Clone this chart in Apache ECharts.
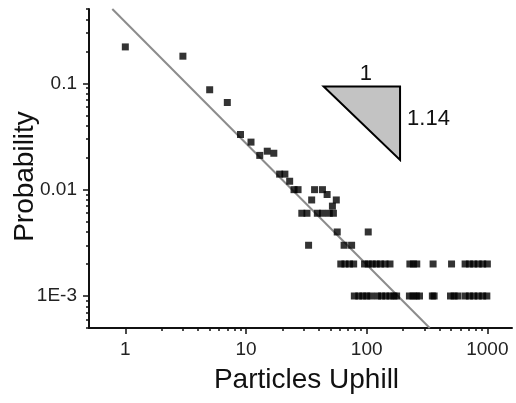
<!DOCTYPE html>
<html>
<head>
<meta charset="utf-8">
<title>Particles Uphill</title>
<script src="https://cdn.jsdelivr.net/npm/echarts@6/dist/echarts.min.js"></script>
<style>
  html, body { margin: 0; padding: 0; background: #fff; }
  #chart { width: 516px; height: 403px; }
</style>
</head>
<body>
<div id="chart"></div>
<script>
// Measured distribution: number of particles moving uphill vs. probability
const uphillCounts = [
  1, 3, 5, 7, 9, 11, 13, 15, 17, 19, 21, 23, 25, 27,
  29, 32, 33, 35, 37, 39, 43, 43, 47, 49, 52, 53, 56, 57, 65, 75, 103,
  // probability 0.002
  61, 66, 72, 78, 96, 103, 111, 120, 130, 142, 156, 228, 244, 260, 355, 505,
  654, 710, 770, 840, 915, 1000,
  // probability 0.001
  79, 86, 93, 100, 108, 123, 133, 144, 156, 168, 177, 226, 242, 258, 274, 350, 362,
  495, 530, 569, 654, 710, 770, 840, 915, 990
];
const probabilities = [
  0.22, 0.18, 0.087, 0.066, 0.033, 0.028, 0.021, 0.023, 0.022, 0.014, 0.014, 0.012, 0.010, 0.010,
  0.006, 0.006, 0.003, 0.008, 0.010, 0.006, 0.010, 0.006, 0.009, 0.006, 0.007, 0.006, 0.008, 0.004, 0.003, 0.003, 0.004,
  0.002, 0.002, 0.002, 0.002, 0.002, 0.002, 0.002, 0.002, 0.002, 0.002, 0.002, 0.002, 0.002, 0.002, 0.002, 0.002,
  0.002, 0.002, 0.002, 0.002, 0.002, 0.002,
  0.001, 0.001, 0.001, 0.001, 0.001, 0.001, 0.001, 0.001, 0.001, 0.001, 0.001, 0.001, 0.001, 0.001, 0.001, 0.001, 0.001,
  0.001, 0.001, 0.001, 0.001, 0.001, 0.001, 0.001, 0.001, 0.001
];

// Power-law fit, P ~ N^-1.14 (end points of the drawn segment)
const fitX = [0.78, 333];
const fitY = [0.5, 0.0005];

// Slope triangle: horizontal run and vertical drop
const slopeX = [44, 189];
const slopeY = [0.0933, 0.019];
const slopeLabels = ['1', '1.14'];

// Axis ticks
const xMajorTicks = [1, 10, 100, 1000];
const xMinorTicks = [2, 3, 4, 5, 6, 7, 8, 9, 20, 30, 40, 50, 60, 70, 80, 90, 200, 300, 400, 500, 600, 700, 800, 900];
const yMajorTicks = [0.001, 0.01, 0.1];
const yMajorLabels = ['1E-3', '0.01', '0.1'];
const yMinorTicks = [0.0005, 0.0006, 0.0007, 0.0008, 0.0009,
  0.002, 0.003, 0.004, 0.005, 0.006, 0.007, 0.008, 0.009,
  0.02, 0.03, 0.04, 0.05, 0.06, 0.07, 0.08, 0.09,
  0.2, 0.3, 0.4, 0.5];

const FONT = '"Liberation Sans", Arial, Helvetica, sans-serif';
const INK = '#111';

const points = uphillCounts.map((n, i) => [n, probabilities[i]]);
const fitLine = fitX.map((x, i) => [x, fitY[i]]);

const xRange = { min: 0.5, max: 1600 };
const yRange = { min: 0.0005, max: 0.5 };

function yLabel(v) {
  const i = yMajorTicks.findIndex(t => Math.abs(t - v) / t < 1e-6);
  return i >= 0 ? yMajorLabels[i] : '';
}

const chart = echarts.init(document.getElementById('chart'), null, { renderer: 'canvas' });

chart.setOption({
  animation: false,
  backgroundColor: '#fff',
  grid: { left: 89, right: 4, top: 9, bottom: 75, containLabel: false, outerBoundsMode: 'none' },
  xAxis: [
    {
      type: 'log', logBase: 10, position: 'bottom', ...xRange,
      name: 'Particles Uphill', nameLocation: 'middle', nameGap: 38, nameMoveOverlap: false,
      nameTextStyle: { fontFamily: FONT, fontSize: 28, color: INK, padding: [0, 0, 0, 12] },
      axisLine: { show: true, lineStyle: { color: INK, width: 2 } },
      axisTick: { show: true, customValues: xMajorTicks, length: 6, lineStyle: { color: INK, width: 1.5 } },
      axisLabel: { customValues: xMajorTicks, fontFamily: FONT, fontSize: 19, color: '#222', margin: 12,
                   formatter: v => String(Math.round(v)) },
      splitLine: { show: false }
    },
    {
      type: 'log', logBase: 10, position: 'bottom', ...xRange,
      axisLine: { show: false },
      axisTick: { show: true, customValues: xMinorTicks, length: 3, lineStyle: { color: INK, width: 1.5 } },
      axisLabel: { show: false },
      splitLine: { show: false }
    }
  ],
  yAxis: [
    {
      type: 'log', logBase: 10, position: 'left', ...yRange,
      name: 'Probability', nameLocation: 'middle', nameGap: 50, nameRotate: 90, nameMoveOverlap: false,
      nameTextStyle: { fontFamily: FONT, fontSize: 28, color: INK, padding: [0, 16, 0, 0] },
      axisLine: { show: true, lineStyle: { color: INK, width: 2 } },
      axisTick: { show: true, customValues: yMajorTicks, length: 6, lineStyle: { color: INK, width: 1.5 } },
      axisLabel: { customValues: yMajorTicks, fontFamily: FONT, fontSize: 19, color: '#222', margin: 12,
                   formatter: yLabel },
      splitLine: { show: false }
    },
    {
      type: 'log', logBase: 10, position: 'left', ...yRange,
      axisLine: { show: false },
      axisTick: { show: true, customValues: yMinorTicks, length: 3, lineStyle: { color: INK, width: 1.5 } },
      axisLabel: { show: false },
      splitLine: { show: false }
    }
  ],
  series: [
    {
      name: 'fit',
      type: 'line',
      xAxisIndex: 0, yAxisIndex: 0,
      data: fitLine,
      symbol: 'none',
      lineStyle: { color: '#8c8c8c', width: 2 },
      clip: true,
      z: 2
    },
    {
      name: 'data',
      type: 'scatter',
      xAxisIndex: 0, yAxisIndex: 0,
      data: points,
      symbol: 'rect',
      symbolSize: 7,
      itemStyle: { color: '#000' },
      z: 3
    },
    {
      name: 'slope',
      type: 'custom',
      xAxisIndex: 0, yAxisIndex: 0,
      data: [[slopeX[0], slopeY[0]]],
      renderItem: function (params, api) {
        const a = api.coord([slopeX[0], slopeY[0]]);
        const b = api.coord([slopeX[1], slopeY[0]]);
        const c = api.coord([slopeX[1], slopeY[1]]);
        return {
          type: 'group',
          children: [
            {
              type: 'polygon',
              shape: { points: [a, b, c] },
              style: { fill: '#c3c3c3', stroke: '#000', lineWidth: 2, lineJoin: 'miter' }
            },
            {
              type: 'text',
              style: {
                text: slopeLabels[0], x: (a[0] + b[0]) / 2 + 4, y: a[1] - 2,
                align: 'center', verticalAlign: 'bottom',
                font: '22px ' + FONT, fill: INK
              }
            },
            {
              type: 'text',
              style: {
                text: slopeLabels[1], x: b[0] + 7, y: (b[1] + c[1]) / 2 - 4,
                align: 'left', verticalAlign: 'middle',
                font: '22px ' + FONT, fill: INK
              }
            }
          ]
        };
      },
      z: 1
    }
  ]
});
</script>
</body>
</html>
